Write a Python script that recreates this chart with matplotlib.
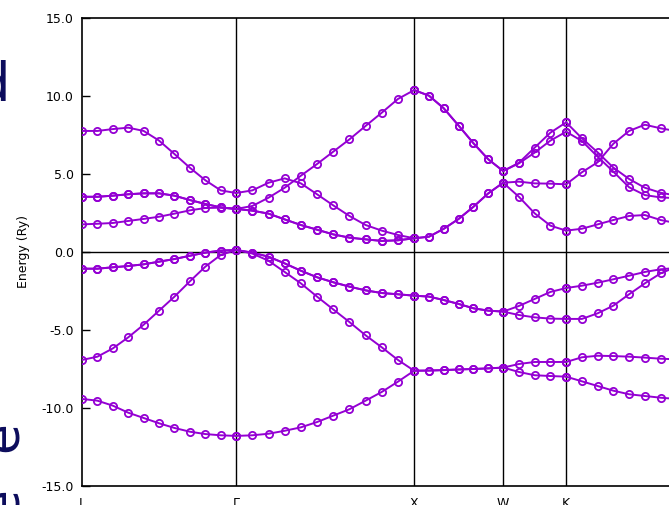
import numpy as np
import matplotlib
matplotlib.use("Agg")
import matplotlib.pyplot as plt

# k-path: labels, cumulative distances, number of steps per segment
k_labels = ["L", "Γ", "X", "W", "K", "Γ"]
k_ticks = [0.0, 0.866, 1.866, 2.366, 2.720, 3.781]
n_steps = [10, 11, 6, 4, 12]
n_shown = [11, 12, 7, 5, 8]   # points per segment drawn (last segment partly shown)

# band energies (Ry) per segment, endpoints repeated at each segment start
band1 = [-9.42, -9.53, -9.85, -10.30, -10.64, -10.98, -11.28, -11.52, -11.67, -11.75, -11.79,
         -11.79, -11.75, -11.65, -11.46, -11.24, -10.90, -10.49, -10.08, -9.53, -8.97, -8.31, -7.61,
         -7.61, -7.60, -7.57, -7.53, -7.50, -7.46, -7.41,
         -7.41, -7.69, -7.90, -7.95, -7.99,
         -7.99, -8.29, -8.59, -8.89, -9.12, -9.23, -9.34, -9.42]
band2 = [-6.92, -6.71, -6.18, -5.47, -4.66, -3.76, -2.86, -1.88, -0.94, -0.19, 0.13,
         0.13, -0.10, -0.56, -1.28, -2.01, -2.86, -3.68, -4.49, -5.34, -6.11, -6.92, -7.61,
         -7.61, -7.60, -7.57, -7.53, -7.50, -7.46, -7.41,
         -7.41, -7.18, -7.05, -7.05, -7.05,
         -7.05, -6.75, -6.65, -6.67, -6.71, -6.77, -6.84, -6.88]
band3 = [-1.07, -1.07, -0.98, -0.90, -0.79, -0.62, -0.45, -0.24, -0.04, 0.09, 0.13,
         0.13, -0.04, -0.30, -0.73, -1.20, -1.62, -1.94, -2.22, -2.46, -2.63, -2.71, -2.80,
         -2.80, -2.86, -3.08, -3.33, -3.61, -3.76, -3.82,
         -3.82, -3.46, -3.01, -2.56, -2.31,
         -2.31, -2.16, -1.97, -1.75, -1.52, -1.28, -1.11, -1.02]
band4 = [-1.07, -1.07, -0.98, -0.90, -0.79, -0.62, -0.45, -0.24, -0.04, 0.09, 0.13,
         0.13, -0.04, -0.30, -0.73, -1.20, -1.62, -1.94, -2.22, -2.46, -2.63, -2.71, -2.80,
         -2.80, -2.86, -3.08, -3.33, -3.61, -3.76, -3.82,
         -3.82, -4.04, -4.19, -4.27, -4.29,
         -4.29, -4.29, -3.93, -3.44, -2.71, -2.01, -1.37, -0.95]
band5 = [1.77, 1.81, 1.86, 1.99, 2.12, 2.26, 2.46, 2.67, 2.82, 2.84, 2.76,
         2.76, 2.65, 2.46, 2.09, 1.73, 1.43, 1.13, 0.92, 0.81, 0.71, 0.75, 0.88,
         0.88, 0.98, 1.49, 2.12, 2.90, 3.76, 4.44,
         4.44, 3.54, 2.48, 1.69, 1.37,
         1.37, 1.49, 1.77, 2.05, 2.31, 2.37, 2.05, 1.85]
band6 = [3.54, 3.54, 3.61, 3.70, 3.76, 3.76, 3.61, 3.33, 3.08, 2.86, 2.76,
         2.76, 2.65, 2.46, 2.09, 1.73, 1.43, 1.13, 0.92, 0.81, 0.71, 0.75, 0.88,
         0.88, 0.98, 1.49, 2.12, 2.90, 3.76, 4.44,
         4.44, 4.51, 4.40, 4.38, 4.34,
         4.34, 5.11, 5.75, 6.94, 7.76, 8.16, 7.93, 7.75]
band7 = [3.54, 3.54, 3.61, 3.70, 3.76, 3.76, 3.61, 3.33, 3.08, 2.86, 2.76,
         2.76, 2.95, 3.48, 4.12, 4.89, 5.64, 6.43, 7.22, 8.08, 8.93, 9.81, 10.38,
         10.38, 10.02, 9.21, 8.10, 6.97, 5.94, 5.19,
         5.19, 5.68, 6.37, 7.14, 7.71,
         7.71, 7.12, 6.11, 5.15, 4.15, 3.65, 3.50, 3.45]
band8 = [7.76, 7.76, 7.88, 7.97, 7.76, 7.14, 6.28, 5.40, 4.60, 3.95, 3.78,
         3.78, 3.95, 4.44, 4.72, 4.40, 3.70, 2.99, 2.31, 1.73, 1.37, 1.09, 0.88,
         10.38, 10.02, 9.21, 8.10, 6.97, 5.94, 5.19,
         5.19, 5.72, 6.69, 7.65, 8.31,
         8.31, 7.29, 6.39, 5.41, 4.68, 4.12, 3.80, 3.62]
bands = [band1, band2, band3, band4, band5, band6, band7, band8]

y_ticks = [15.0, 10.0, 5.0, 0.0, -5.0, -10.0, -15.0]
y_label = "Energy (Ry)"

color = "#9400D3"

W, H = 669, 505
fig = plt.figure(figsize=(W / 100, H / 100), dpi=100)
left, right_px, top, bottom = 82, 755, 18, 486
ax = fig.add_axes([left / W, (H - bottom) / H, (right_px - left) / W, (bottom - top) / H])

# x positions per segment
seg_x = []
for i, n in enumerate(n_steps):
    xs = np.linspace(k_ticks[i], k_ticks[i + 1], n + 1)[: n_shown[i]]
    seg_x.append(xs)

for b in bands:
    start = 0
    for i, xs in enumerate(seg_x):
        ys = b[start:start + n_shown[i]]
        start += n_shown[i]
        ax.plot(xs, ys, color=color, lw=1.4, marker="o", markersize=5.2,
                mfc="none", mec=color, mew=1.3, solid_joinstyle="round", zorder=3)

for xv in k_ticks[1:-1]:
    ax.axvline(xv, color="black", lw=1.0, zorder=2)
ax.axhline(0.0, color="black", lw=1.0, zorder=2)

ax.set_xlim(k_ticks[0], k_ticks[-1])
ax.set_ylim(-15, 15)
ax.set_yticks(y_ticks)
ax.set_yticklabels([f"{v:.1f}" for v in y_ticks], fontsize=9)
ax.set_xticks(k_ticks)
ax.set_xticklabels(k_labels, fontsize=9)
ax.tick_params(axis="y", direction="in", length=6, width=1, pad=6)
ax.tick_params(axis="x", length=0, pad=8)
for s in ax.spines.values():
    s.set_linewidth(1.2)
ax.set_ylabel(y_label, fontsize=9)
ax.yaxis.set_label_coords(-0.078, 0.5)

# fragments of surrounding slide text at the left edge
navy = "#0c0c5c"
fig.text(-0.035, 0.83, "d", fontsize=38, color=navy, ha="left", va="center")
fig.text(-0.030, 1 - 437 / H, "e", fontsize=36, color=navy, ha="left", va="center", rotation=90)
fig.text(-0.030, 1 - 503 / H, "e", fontsize=36, color=navy, ha="left", va="center", rotation=90)

fig.savefig("out.png", dpi=100)
